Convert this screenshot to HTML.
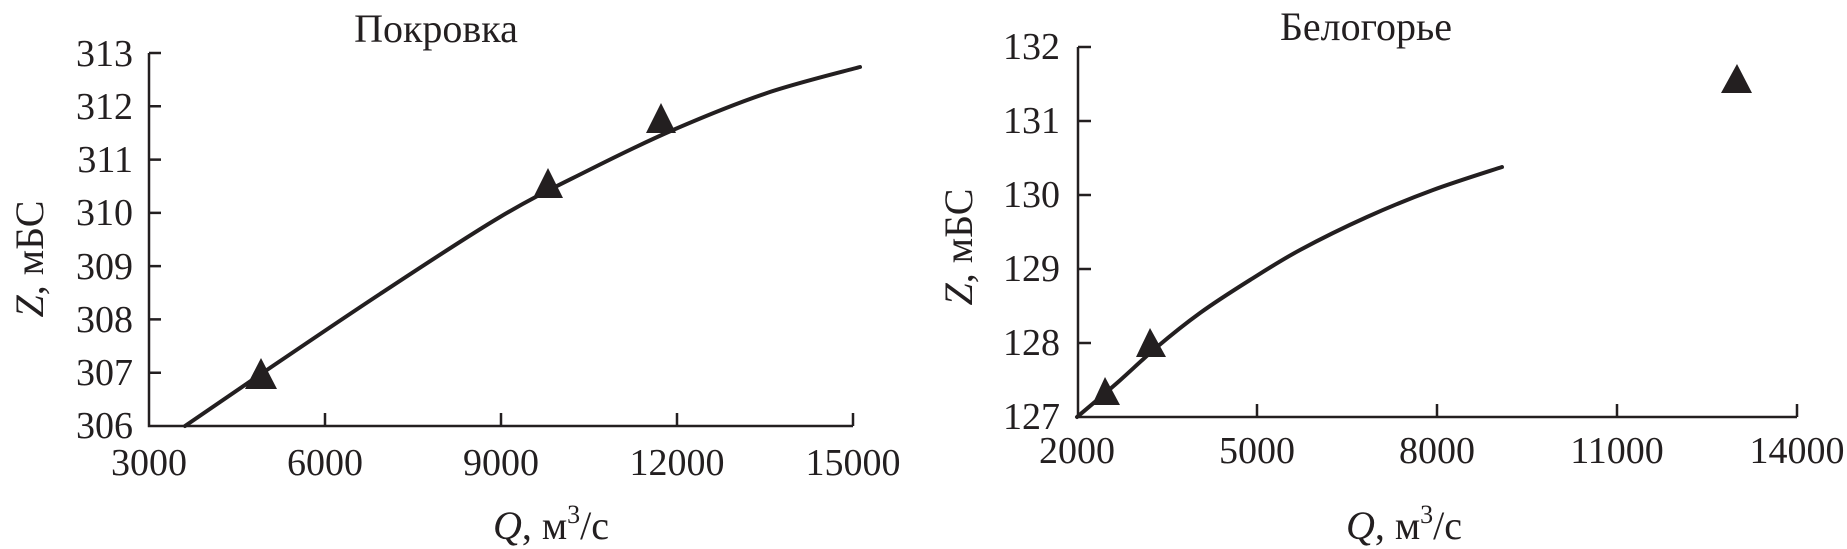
<!DOCTYPE html>
<html><head><meta charset="utf-8"><style>
html,body{margin:0;padding:0;background:#fff;}
svg{display:block;}
text{font-family:"Liberation Serif",serif;fill:#231f20;}
</style></head><body>
<svg width="1847" height="549" viewBox="0 0 1847 549" xmlns="http://www.w3.org/2000/svg">
<g stroke="#231f20" stroke-width="2.5" fill="none">
<path d="M149,53 V426 H853"/>
<path d="M149,53 h12 M149,106.3 h12 M149,159.6 h12 M149,212.9 h12 M149,266.1 h12 M149,319.4 h12 M149,372.7 h12"/>
<path d="M325,426 v-13 M501,426 v-13 M677,426 v-13 M853,426 v-13"/>
<path d="M1078,47 V417 H1797"/>
<path d="M1078,47 h13 M1078,121 h13 M1078,195 h13 M1078,269 h13 M1078,343 h13"/>
<path d="M1257,417 v-13 M1437,417 v-13 M1617,417 v-13 M1797,417 v-13"/>
</g>
<g stroke="#231f20" stroke-width="4" fill="none" stroke-linecap="round" stroke-linejoin="round">
<path d="M185,426 C197.7,417.3 228.5,396 261,374 C293.5,352 340.2,320.2 380,294 C419.8,267.8 465.5,237.5 500,217 C534.5,196.5 558.2,185.5 587,171 C615.8,156.5 643,143 673,130 C703,117 735.8,103.5 767,93 C798.2,82.5 844.5,71.3 860,67"/>
<path d="M1077,417 C1083.7,411.3 1103.7,394.7 1117,383 C1130.3,371.3 1143.2,358.7 1157,347 C1170.8,335.3 1184.5,324.2 1200,313 C1215.5,301.8 1233.3,290.5 1250,280 C1266.7,269.5 1280.5,260.5 1300,250 C1319.5,239.5 1344.8,227 1367,217 C1389.2,207 1410.5,198.3 1433,190 C1455.5,181.7 1490.5,170.8 1502,167"/>
</g>
<g fill="#231f20">
<polygon points="261,358 245,389 277,389"/>
<polygon points="548,168 533,198 563,198"/>
<polygon points="661,103 646,133 676,133"/>
<polygon points="1105,377 1092,405 1120,405"/>
<polygon points="1150,328 1136,357 1166,357"/>
<polygon points="1737,64 1721,93 1752,93"/>
</g>
<g font-size="38" text-anchor="end">
<text x="133" y="66">313</text>
<text x="133" y="119">312</text>
<text x="133" y="172">311</text>
<text x="133" y="225">310</text>
<text x="133" y="279">309</text>
<text x="133" y="332">308</text>
<text x="133" y="385">307</text>
<text x="133" y="438">306</text>
<text x="1060" y="59">132</text>
<text x="1060" y="133">131</text>
<text x="1060" y="207">130</text>
<text x="1060" y="281">129</text>
<text x="1060" y="355">128</text>
<text x="1060" y="429">127</text>
</g>
<g font-size="38" text-anchor="middle">
<text x="149" y="475">3000</text>
<text x="325" y="475">6000</text>
<text x="501" y="475">9000</text>
<text x="677" y="475">12000</text>
<text x="853" y="475">15000</text>
<text x="1077" y="463">2000</text>
<text x="1257" y="463">5000</text>
<text x="1437" y="463">8000</text>
<text x="1617" y="463">11000</text>
<text x="1797" y="463">14000</text>
</g>
<g font-size="40" text-anchor="middle">
<text x="436" y="42">Покровка</text>
<text x="1366" y="40">Белогорье</text>
<text x="551" y="539"><tspan font-style="italic">Q</tspan>, м<tspan font-size="26" dy="-16">3</tspan><tspan dy="16">/с</tspan></text>
<text x="1404" y="539"><tspan font-style="italic">Q</tspan>, м<tspan font-size="26" dy="-16">3</tspan><tspan dy="16">/с</tspan></text>
<text transform="translate(43,259) rotate(-90)"><tspan font-style="italic">Z</tspan>, мБС</text>
<text transform="translate(972,247) rotate(-90)"><tspan font-style="italic">Z</tspan>, мБС</text>
</g>
</svg>
</body></html>
